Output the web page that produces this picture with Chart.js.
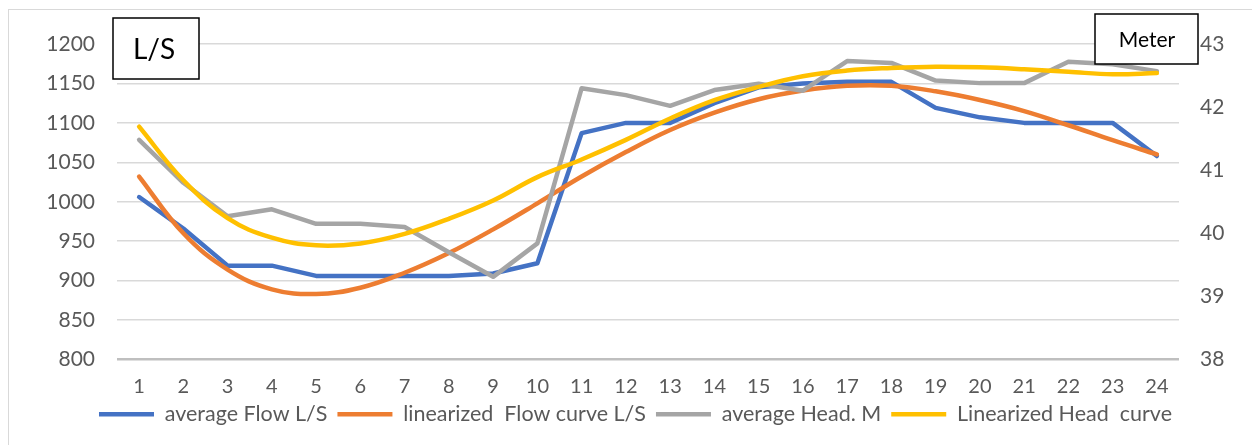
<!DOCTYPE html>
<html>
<head>
<meta charset="utf-8">
<script src="https://cdn.jsdelivr.net/npm/chart.js@4.4.0/dist/chart.umd.min.js"></script>
<style>
  body { margin: 0; background: #fff; overflow: hidden; }
  #wrap { position: absolute; left: 0; top: 0; width: 1252px; height: 445px; }
  #frame { position: absolute; left: 8px; top: 9px; width: 1270px; height: 460px; border: 1px solid #d9d9d9; }
</style>
</head>
<body>
<div id="frame"></div>
<div id="wrap"><canvas id="chart" width="1252" height="445"></canvas></div>
<script>
// hours 1..24
const hours = ['1','2','3','4','5','6','7','8','9','10','11','12','13','14','15','16','17','18','19','20','21','22','23','24'];

// left axis, L/S
const avgFlow = [1006, 966, 919, 919, 906, 906, 906, 906, 909, 922, 1087, 1100, 1100, 1125, 1145, 1150, 1152, 1152, 1119, 1107, 1100, 1100, 1100, 1058];
const linFlow = [1032, 960, 914, 889, 883, 891, 910, 935, 965, 998, 1032, 1063, 1091, 1113, 1130, 1141, 1147, 1147, 1140, 1129, 1115, 1097, 1078, 1060];

// right axis, meters
const avgHead = [41.48, 40.80, 40.27, 40.38, 40.15, 40.15, 40.10, 39.70, 39.31, 39.84, 42.30, 42.19, 42.02, 42.27, 42.37, 42.26, 42.73, 42.70, 42.42, 42.38, 42.38, 42.72, 42.68, 42.57];
const linHead = [41.69, 40.84, 40.24, 39.93, 39.81, 39.84, 39.99, 40.23, 40.52, 40.89, 41.17, 41.48, 41.82, 42.11, 42.32, 42.49, 42.58, 42.62, 42.64, 42.63, 42.60, 42.56, 42.52, 42.54];

const fontFam = 'Lato, "Liberation Sans", sans-serif';
const grey = '#595959';

// the two little unit boxes
const unitBoxes = {
  id: 'unitBoxes',
  afterDraw(chart) {
    const ctx = chart.ctx;
    ctx.save();
    ctx.strokeStyle = '#000';
    ctx.lineWidth = 1.5;
    ctx.fillStyle = '#fff';
    ctx.fillRect(113, 18, 86, 61);
    ctx.strokeRect(113, 18, 86, 61);
    ctx.fillRect(1095, 14, 103, 50);
    ctx.strokeRect(1095, 14, 103, 50);
    ctx.fillStyle = '#000';
    ctx.textAlign = 'center';
    ctx.textBaseline = 'middle';
    ctx.font = '28px ' + fontFam;
    ctx.fillText('L/S', 154, 50);
    ctx.font = '21px ' + fontFam;
    ctx.fillText('Meter', 1147, 40);
    ctx.restore();
  }
};

function line(label, data, color, axis, tension, order) {
  return {
    label: label,
    data: data,
    yAxisID: axis,
    borderColor: color,
    backgroundColor: color,
    borderWidth: 4.5,
    borderCapStyle: 'round',
    borderJoinStyle: 'round',
    pointRadius: 0,
    pointStyle: 'line',
    tension: tension,
    order: order
  };
}

const ctx = document.getElementById('chart').getContext('2d');
const myChart = new Chart(ctx, {
  type: 'line',
  data: {
    labels: hours,
    datasets: [
      line('average Flow L/S', avgFlow, '#4472C4', 'y', 0, 4),
      line('linearized  Flow curve L/S', linFlow, '#ED7D31', 'y', 0.4, 3),
      line('average Head. M', avgHead, '#A5A5A5', 'y1', 0, 2),
      line('Linearized Head  curve', linHead, '#FFC000', 'y1', 0.4, 1)
    ]
  },
  options: {
    responsive: false,
    animation: false,
    layout: { padding: { top: 44, bottom: 10, left: 19, right: 0 } },
    plugins: {
      tooltip: { enabled: false },
      legend: {
        position: 'bottom',
        labels: {
          usePointStyle: true,
          pointStyleWidth: 55,
          padding: 10,
          color: grey,
          font: { family: fontFam, size: 21.5 },
          sort: (a, b) => a.datasetIndex - b.datasetIndex
        }
      }
    },
    scales: {
      x: {
        offset: true,
        grid: { display: false },
        border: { display: false },
        ticks: { color: grey, padding: 7, font: { family: fontFam, size: 20 } },
        afterFit: s => { s.height = 34; }
      },
      y: {
        position: 'left',
        min: 800,
        max: 1200,
        ticks: { stepSize: 50, color: grey, padding: 22, font: { family: fontFam, size: 21 }, callback: v => String(v) },
        border: { display: false },
        grid: {
          drawTicks: false,
          color: c => c.index === 0 ? '#bfbfbf' : '#d9d9d9',
          lineWidth: c => c.index === 0 ? 2.5 : 1.5
        },
        afterFit: s => { s.width = 98; }
      },
      y1: {
        position: 'right',
        min: 38,
        max: 43,
        ticks: { stepSize: 1, color: grey, padding: 21, font: { family: fontFam, size: 21 }, callback: v => String(v) },
        border: { display: false },
        grid: { display: false, drawTicks: false },
        afterFit: s => { s.width = 73; }
      }
    }
  },
  plugins: [unitBoxes]
});
</script>
</body>
</html>
